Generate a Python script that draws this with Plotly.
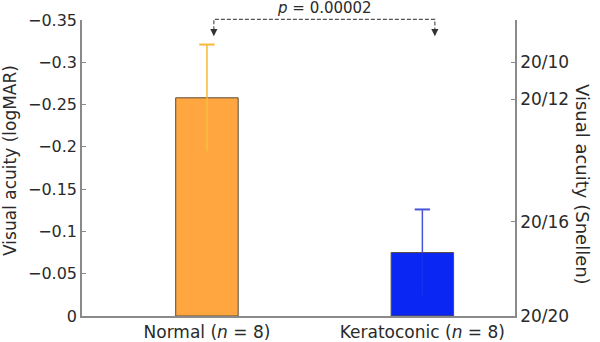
import plotly.graph_objects as go

# ---- data ----
categories = ["Normal (<i>n</i> = 8)", "Keratoconic (<i>n</i> = 8)"]
mean_logmar = [-0.258, -0.075]
sd_logmar = [0.063, 0.051]
bar_colors = ["#FFA640", "#0A26F2"]
err_colors = ["#F7B838", "#4656D6"]
inner_err_colors = ["#F9BE3C", "#1630EC"]

left_tickvals = [-0.35, -0.30, -0.25, -0.20, -0.15, -0.10, -0.05, 0.0]
left_ticktext = ["\u22120.35", "\u22120.3", "\u22120.25", "\u22120.2", "\u22120.15", "\u22120.1", "\u22120.05", "0"]
snellen_vals = [-0.300, -0.256, -0.1115, 0.0]
snellen_text = ["20/10", "20/12", "20/16", "20/20"]
p_text = "<i>p</i> = 0.00002"

FONT = "DejaVu Sans"
AX = "#8a8a8a"
TXT = "#2a2a2a"

fig = go.Figure()
fig.add_trace(go.Bar(
    x=categories, y=mean_logmar, width=0.29,
    marker=dict(color=bar_colors, line=dict(color="#5a4a3c", width=1)),
    showlegend=False, hoverinfo="skip"))

for c, m, s, col, icol in zip(categories, mean_logmar, sd_logmar, err_colors, inner_err_colors):
    # lower half of the error bar (inside the bar)
    fig.add_trace(go.Scatter(
        x=[c, c], y=[m, m + s], mode="lines",
        line=dict(color=icol, width=1.5), showlegend=False, hoverinfo="skip"))
    # upper half of the error bar
    fig.add_trace(go.Scatter(
        x=[c, c], y=[m, m - s], mode="lines",
        line=dict(color=col, width=1.5), showlegend=False, hoverinfo="skip"))
    fig.add_trace(go.Scatter(
        x=[c], y=[m - s], mode="markers",
        marker=dict(symbol="line-ew-open", size=11, color=col,
                    line=dict(color=col, width=2)),
        showlegend=False, hoverinfo="skip"))

# invisible trace to activate the right axis
fig.add_trace(go.Scatter(x=[categories[0]], y=[0], yaxis="y2", mode="markers",
                         marker=dict(opacity=0), showlegend=False, hoverinfo="skip"))

fig.update_layout(
    width=600, height=342,
    margin=dict(l=82, r=85, t=20, b=26, autoexpand=False),
    paper_bgcolor="white", plot_bgcolor="white",
    font=dict(family=FONT, size=17, color=TXT),
    xaxis=dict(type="category", range=[-0.58, 1.43], showline=True, linecolor=AX,
               linewidth=1.5, ticks="", showgrid=False, zeroline=False,
               tickfont=dict(size=17, color=TXT), automargin=False),
    yaxis=dict(range=[0, -0.35], tickvals=left_tickvals, ticktext=left_ticktext,
               showline=True, linecolor=AX, linewidth=1.5, ticks="inside",
               ticklen=4, tickcolor=AX, showgrid=False, zeroline=False,
               tickfont=dict(size=16, color=TXT), automargin=False),
    yaxis2=dict(range=[0, -0.35], overlaying="y", side="right",
                tickvals=snellen_vals, ticktext=snellen_text,
                showline=True, linecolor=AX, linewidth=1.5, ticks="inside",
                ticklen=4, tickcolor=AX, showgrid=False, zeroline=False,
                tickfont=dict(size=17, color=TXT), automargin=False),
)

# axis titles
fig.add_annotation(text="Visual acuity (logMAR)", xref="paper", yref="paper",
                   x=-72 / 433, y=0.524, textangle=-90, showarrow=False,
                   font=dict(size=17, color=TXT), xanchor="center", yanchor="middle")
fig.add_annotation(text="Visual acuity (Snellen)", xref="paper", yref="paper",
                   x=1 + 67 / 433, y=0.446, textangle=90, showarrow=False,
                   font=dict(size=18, color=TXT), xanchor="center", yanchor="middle")

# significance bracket
xL, xR = 0.032, 1.058
fig.add_shape(type="path", xref="x", yref="paper",
              path=f"M {xL} 0.965 L {xL} 1.002 L {xR} 1.002 L {xR} 0.965",
              line=dict(color="#555555", width=1.2, dash="4px,2px"))
for xx in (xL, xR):
    fig.add_annotation(x=xx, y=0.945, xref="x", yref="paper", text="",
                       showarrow=True, ax=0, ay=-6, arrowhead=2, arrowsize=1.2,
                       arrowwidth=1.2, arrowcolor="#333333")
fig.add_annotation(text=p_text, xref="x", yref="paper", x=(xL + xR) / 2, y=1.0,
                   yanchor="bottom", yshift=1, showarrow=False,
                   font=dict(size=15, color=TXT))

fig.write_html("out.html", config={"displayModeBar": False},
               post_script="document.body.style.margin='0';document.body.style.overflow='hidden';")
